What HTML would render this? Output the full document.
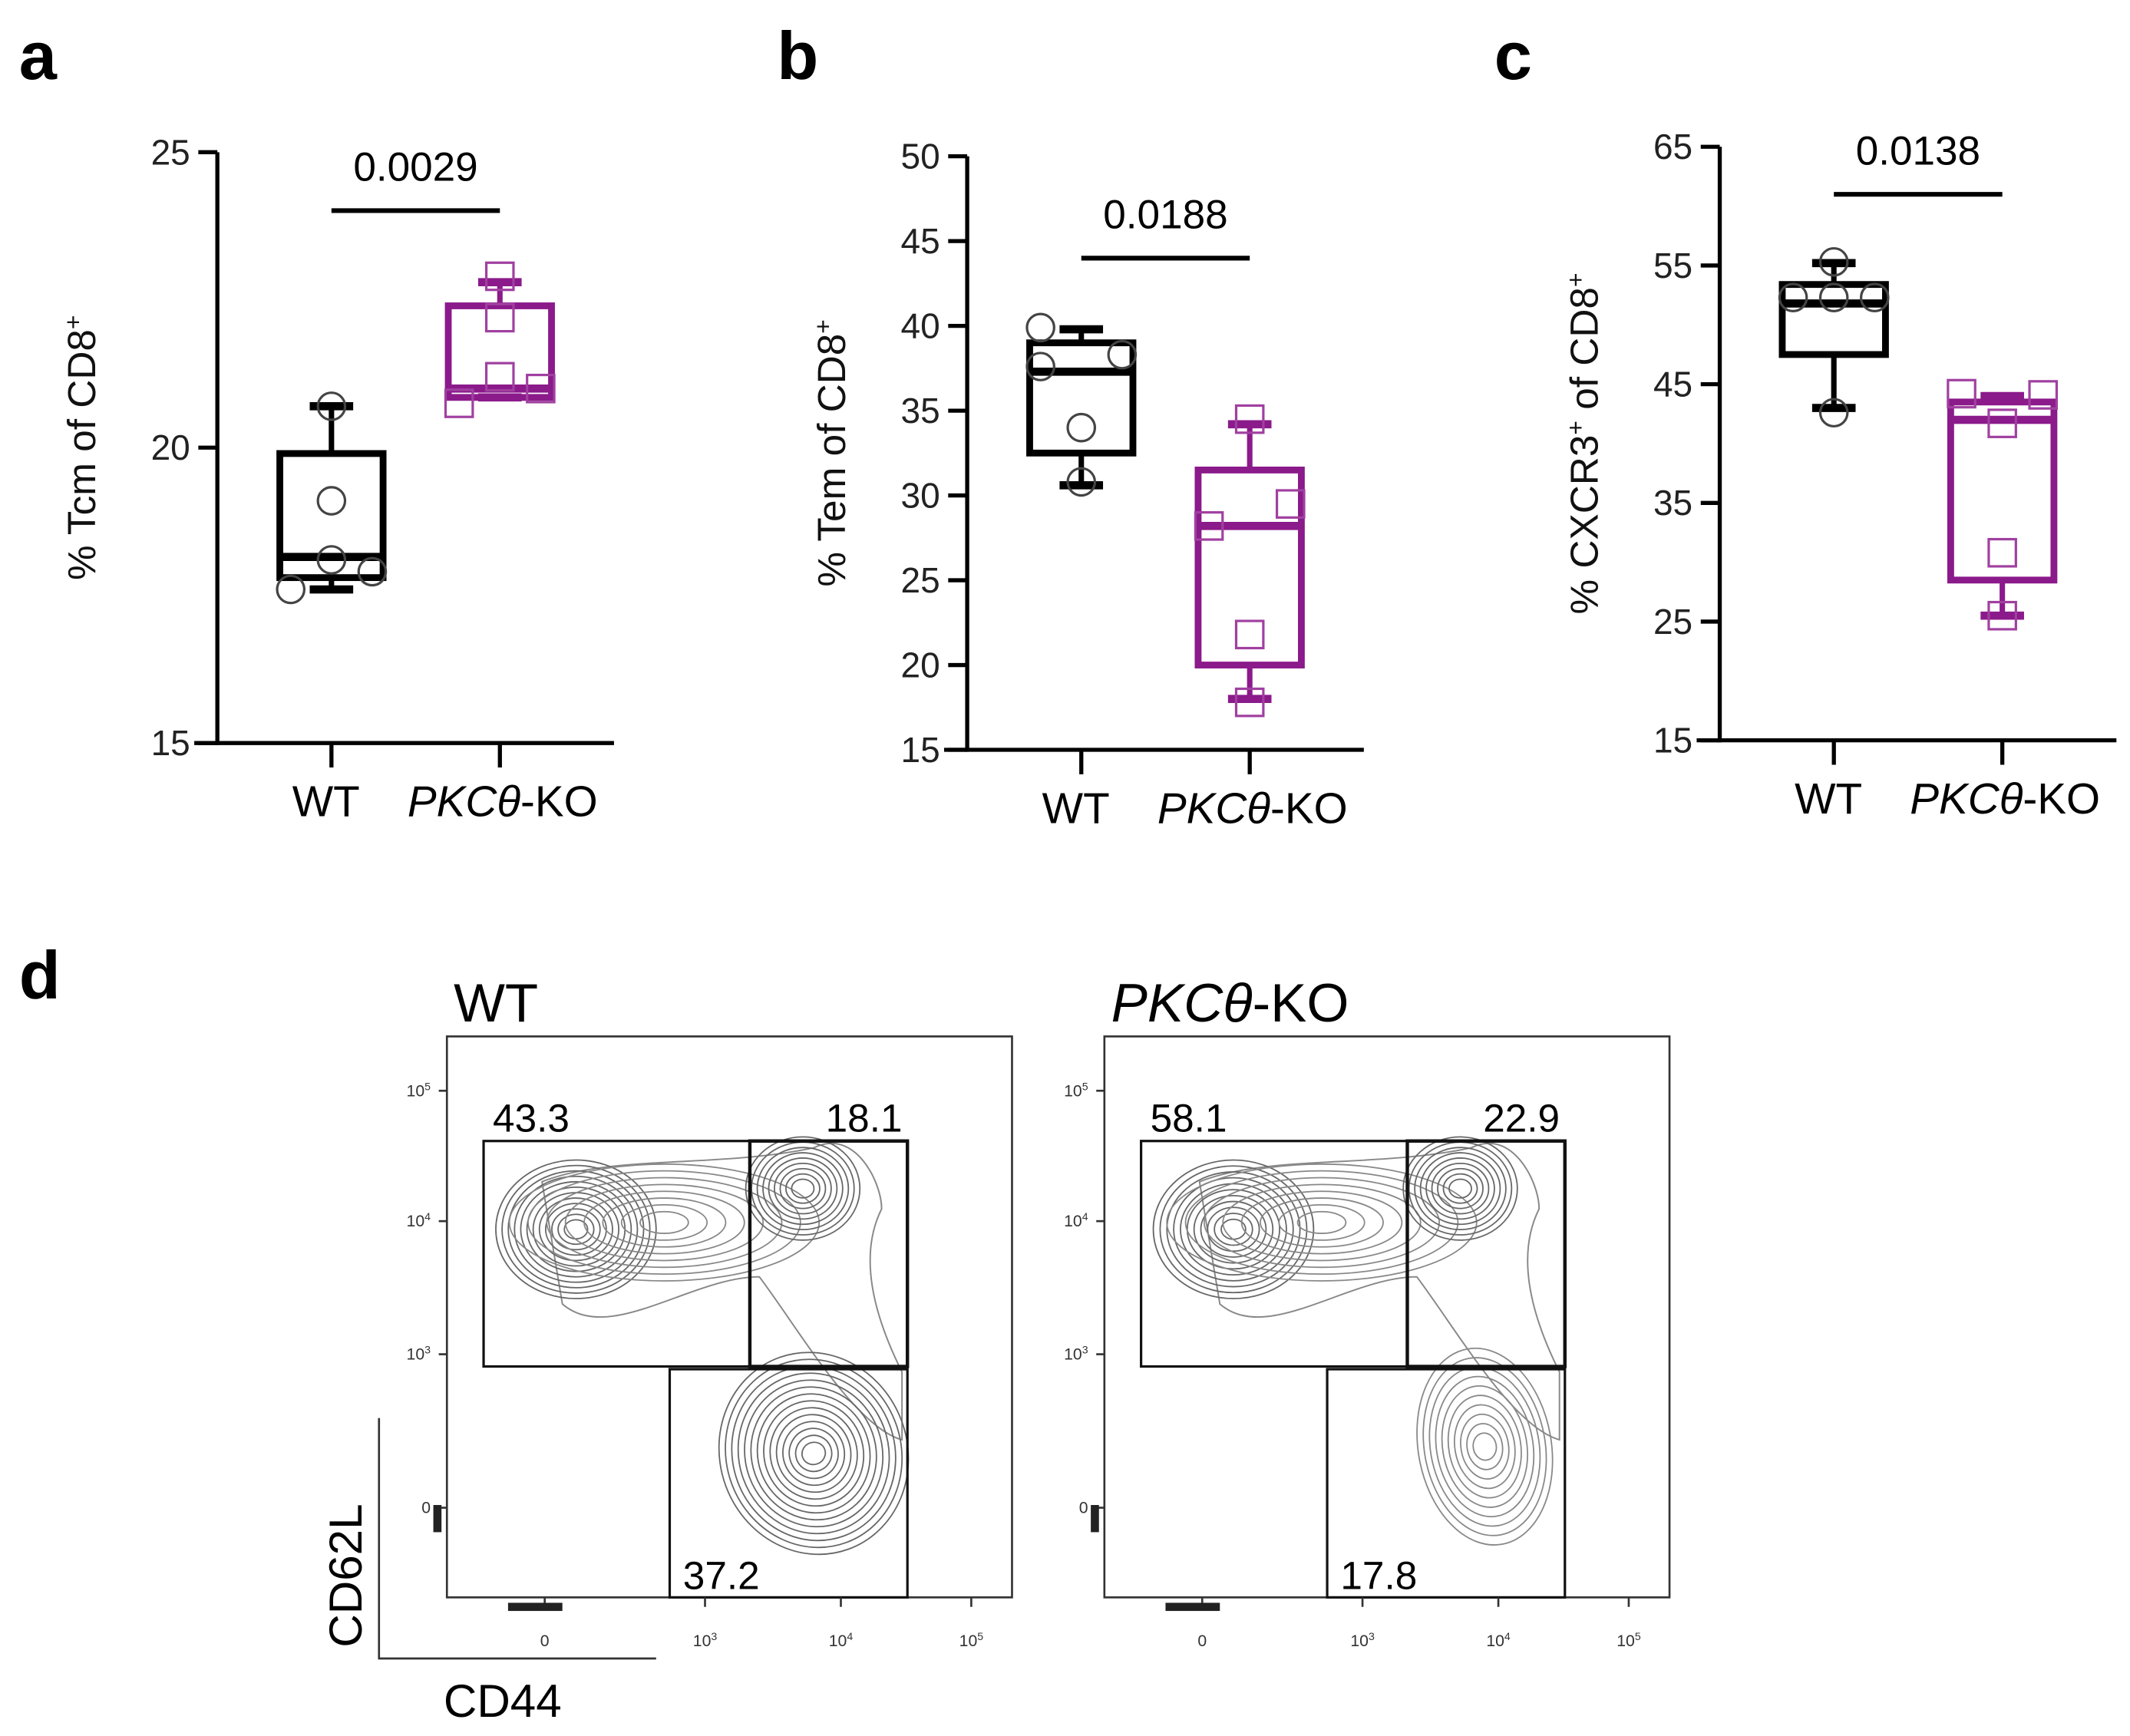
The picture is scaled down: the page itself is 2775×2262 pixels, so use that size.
<!DOCTYPE html>
<html><head><meta charset="utf-8"><style>
html,body{margin:0;padding:0;background:#fff}
svg{display:block}
text{font-family:"Liberation Sans",Arial,sans-serif}
</style></head><body>
<svg id="fig" xmlns="http://www.w3.org/2000/svg" width="2775" height="2262" viewBox="0 0 1568 1278">
<g id="panels"></g>
<g id="flow"></g>
</svg>
<script>
// ---- Data for panels a, b, c ----
const categories = ["WT", "PKCθ-KO"];
const aWT = {q1:17.8, med:18.15, q3:19.9, lo:17.6, hi:20.7};
const aKO = {q1:20.85, med:21.0, q3:22.4, lo:20.85, hi:22.8};
const aPtsWT = [20.7, 19.1, 17.6, 17.9, 18.1];
const aPtsKO = [22.9, 22.2, 21.2, 20.75, 21.0];
const aTicks = [15, 20, 25];
const bWT = {q1:32.5, med:37.3, q3:39.0, lo:30.6, hi:39.8};
const bKO = {q1:20.0, med:28.2, q3:31.5, lo:18.0, hi:34.2};
const bPtsWT = [39.9, 37.6, 34.0, 30.8, 38.3];
const bPtsKO = [34.5, 28.2, 29.5, 21.8, 17.8];
const bTicks = [15, 20, 25, 30, 35, 40, 45, 50];
const cWT = {q1:47.5, med:51.8, q3:53.4, lo:43.0, hi:55.2};
const cKO = {q1:28.5, med:42.0, q3:43.5, lo:25.5, hi:44.0};
const cPtsWT = [55.3, 52.3, 52.3, 52.3, 42.6];
const cPtsKO = [44.2, 44.1, 41.7, 30.8, 25.5];
const cTicks = [15, 25, 35, 45, 55, 65];
const pvals = ["0.0029", "0.0188", "0.0138"];

const NS = "http://www.w3.org/2000/svg";
function mk(tag, attrs, parent, txt){
  const e = document.createElementNS(NS, tag);
  for (const k in attrs) e.setAttribute(k, attrs[k]);
  if (txt !== undefined) e.textContent = txt;
  parent.appendChild(e); return e;
}
const P = document.getElementById('panels');
function panel(cfg){
  const g = mk('g', {}, P);
  
  
  const y = v => cfg.y0 + (v - cfg.vmin) / (cfg.vmax - cfg.vmin) * (cfg.y1 - cfg.y0);
  const xs = [cfg.ax + 84, cfg.ax + 208];
  const lt = mk('text', {x: cfg.lx, y: 58, 'font-size': 50, 'font-weight': 'bold'}, g, cfg.letter);
  
  
  const ya = mk('line', {x1: cfg.ax, y1: y(cfg.vmax), x2: cfg.ax, y2: y(cfg.vmin)+1.5, stroke: '#000', 'stroke-width': 3}, g);
  
  
  const xa = mk('line', {x1: cfg.ax - 17, y1: y(cfg.vmin), x2: cfg.ax + 292, y2: y(cfg.vmin), stroke: '#000', 'stroke-width': 3}, g);
  
  
  cfg.ticks.forEach(t => {
    mk('line', {x1: cfg.ax - 14, y1: y(t), x2: cfg.ax, y2: y(t), stroke: '#000', 'stroke-width': 3}, g);
    const tl = mk('text', {x: cfg.ax - 20, y: y(t) + 9, 'font-size': 26, 'text-anchor': 'end', fill: '#222'}, g, t);
    
    
  });
  const tt = mk('text', {transform: `translate(${cfg.ax - 90},${(y(cfg.vmin)+y(cfg.vmax))/2}) rotate(-90)`, 'font-size': 29, 'text-anchor': 'middle', fill: '#111'}, g);
  
  
  tt.innerHTML = cfg.title;
  categories.forEach((c, i) => {
    mk('line', {x1: xs[i], y1: y(cfg.vmin), x2: xs[i], y2: y(cfg.vmin) + 18, stroke: '#000', 'stroke-width': 3}, g);
    const cl = mk('text', {x: xs[i] + (i ? 2 : -4), y: y(cfg.vmin) + 54, 'font-size': 32, 'text-anchor': 'middle', 'font-style': i ? 'italic' : 'normal'}, g);
    
    
    if (i) cl.innerHTML = 'PKCθ<tspan font-style="normal">-KO</tspan>'; else cl.textContent = c;
  });
  [[cfg.wt, cfg.pw, '#000', 'circle', cfg.jw], [cfg.ko, cfg.pk, '#8b1a8b', 'square', cfg.jk]].forEach(([b, pts, col, shape, jit], i) => {
    const x = xs[i], w = 38;
    const bg = mk('g', {}, g);
    
    
    mk('line', {x1: x, y1: y(b.hi), x2: x, y2: y(b.q3), stroke: col, 'stroke-width': 4}, bg);
    mk('line', {x1: x, y1: y(b.lo), x2: x, y2: y(b.q1), stroke: col, 'stroke-width': 4}, bg);
    mk('line', {x1: x - 16, y1: y(b.hi), x2: x + 16, y2: y(b.hi), stroke: col, 'stroke-width': 6}, bg);
    mk('line', {x1: x - 16, y1: y(b.lo), x2: x + 16, y2: y(b.lo), stroke: col, 'stroke-width': 6}, bg);
    mk('rect', {x: x - w, y: y(b.q3), width: 2 * w, height: y(b.q1) - y(b.q3), fill: 'none', stroke: col, 'stroke-width': 5}, bg);
    mk('line', {x1: x - w, y1: y(b.med), x2: x + w, y2: y(b.med), stroke: col, 'stroke-width': 6}, bg);
    pts.forEach((v, k) => {
      const px = x + jit[k] * 30;
      let m;
      if (shape === 'circle') m = mk('circle', {cx: px, cy: y(v), r: 10, fill: 'none', stroke: '#444', 'stroke-width': 1.8}, bg);
      else m = mk('rect', {x: px - 10, y: y(v) - 10, width: 20, height: 20, fill: 'none', stroke: '#a040a0', 'stroke-width': 1.8}, bg);
      
      
    });
  });
  const sl = mk('line', {x1: xs[0], y1: cfg.sigY, x2: xs[1], y2: cfg.sigY, stroke: '#000', 'stroke-width': 3.5}, g);
  
  
  const st = mk('text', {x: (xs[0] + xs[1]) / 2, y: cfg.sigY - 22, 'font-size': 30, 'text-anchor': 'middle'}, g, cfg.p);
  
  
}
panel({name:'panel-a', letter:'a', lx:14, ax:160, y0:547, y1:112, vmin:15, vmax:25, ticks:aTicks, wt:aWT, ko:aKO, pw:aPtsWT, pk:aPtsKO, jw:[0,0,-1,1,0], jk:[0,0,0,-1,1], sigY:155, p:pvals[0], title:'% Tcm of CD8<tspan baseline-shift="super" font-size="18">+</tspan>'});
panel({name:'panel-b', letter:'b', lx:572, ax:712, y0:552, y1:115, vmin:15, vmax:50, ticks:bTicks, wt:bWT, ko:bKO, pw:bPtsWT, pk:bPtsKO, jw:[-1,-1,0,0,1], jk:[0,-1,1,0,0], sigY:190, p:pvals[1], title:'% Tem of CD8<tspan baseline-shift="super" font-size="18">+</tspan>'});
panel({name:'panel-c', letter:'c', lx:1100, ax:1266, y0:545, y1:108, vmin:15, vmax:65, ticks:cTicks, wt:cWT, ko:cKO, pw:cPtsWT, pk:cPtsKO, jw:[0,-1,1,0,0], jk:[-1,1,0,0,0], sigY:143, p:pvals[2], title:'% CXCR3<tspan baseline-shift="super" font-size="18">+</tspan> of CD8<tspan baseline-shift="super" font-size="18">+</tspan>'});

// ---- Panel d: flow plots ----
const gateLabelsWT = ["43.3", "18.1", "37.2"];
const gateLabelsKO = ["58.1", "22.9", "17.8"];
const F = document.getElementById('flow');
const dl = mk('text', {x: 14, y: 735, 'font-size': 50, 'font-weight': 'bold'}, F, 'd');


function blob(g, cx, cy, rx, ry, n, rot, dark){
  for (let i = 0; i < n; i++) {
    const f = 1 - i / n;
    mk('ellipse', {cx: cx, cy: cy, rx: rx * f + 4, ry: ry * f + 3, transform: `rotate(${rot} ${cx} ${cy})`, fill: 'none', stroke: dark ? '#666' : '#888', 'stroke-width': 1}, g);
  }
}
function flowPlot(ox, title, labels, italic, dense){
  const g = mk('g', {}, F);
  
  
  const t = mk('text', {x: ox + 5, y: 752, 'font-size': 40}, g);
  
  
  if (italic) t.innerHTML = '<tspan font-style="italic">PKCθ</tspan>-KO'; else t.textContent = title;
  mk('rect', {x: ox, y: 763, width: 416, height: 413, fill: 'none', stroke: '#333', 'stroke-width': 1.5}, g);
  const cg = mk('g', {}, g);
  
  
  mk('path', {d: `M${ox+70},${870} C${ox+120},${850} ${ox+200},${860} ${ox+270},${845} C${ox+300},${830} ${ox+320},${870} ${ox+320},${890} C${ox+300},${930} ${ox+320},${980} ${ox+335},${1010} L${ox+335},${1060} C${ox+300},${1050} ${ox+260},${980} ${ox+230},${940} C${ox+180},${940} ${ox+120},${990} ${ox+85},${960} Z`, fill: 'none', stroke: '#888', 'stroke-width': 1.1}, cg);
  blob(cg, ox + 95, 905, 55, 48, dense ? 12 : 11, 0, true);
  blob(cg, ox + 160, 900, 110, 40, 8, 0, false);
  blob(cg, ox + 262, 875, 38, 35, 9, 0, true);
  if (dense) blob(cg, ox + 270, 1070, 65, 72, 14, -20, true);
  else blob(cg, ox + 280, 1065, 45, 70, 10, -10, false);
  const gs = [[ox+27, 840, 196, 166], [ox+223, 840, 116, 166], [ox+164, 1008, 175, 168]];
  gs.forEach((r, i) => {
    const gr = mk('rect', {x: r[0], y: r[1], width: r[2], height: r[3], fill: 'none', stroke: '#111', 'stroke-width': i===1 ? 2.5 : 1.8}, g);
    
    
  });
  [[ox+62, 833], [ox+307, 833], [ox+202, 1170]].forEach((p, i) => {
    const l = mk('text', {x: p[0], y: p[1], 'font-size': 29, 'text-anchor': 'middle'}, g, labels[i]);
    
    
  });
  [['10', '5', 803], ['10', '4', 899], ['10', '3', 997], ['0', '', 1110]].forEach(a => {
    const l = mk('text', {x: ox - 12, y: a[2] + 4, 'font-size': 12, 'text-anchor': 'end', fill: '#333'}, g);
    l.innerHTML = a[0] + (a[1] ? `<tspan baseline-shift="super" font-size="8">${a[1]}</tspan>` : '');
    mk('line', {x1: ox - 6, y1: a[2], x2: ox, y2: a[2], stroke: '#333', 'stroke-width': 1.5}, g);
  });
  [['0', '', 72], ['10', '3', 190], ['10', '4', 290], ['10', '5', 386]].forEach(a => {
    const l = mk('text', {x: ox + a[2], y: 1212, 'font-size': 12, 'text-anchor': 'middle', fill: '#333'}, g);
    l.innerHTML = a[0] + (a[1] ? `<tspan baseline-shift="super" font-size="8">${a[1]}</tspan>` : '');
    mk('line', {x1: ox + a[2], y1: 1176, x2: ox + a[2], y2: 1183, stroke: '#333', 'stroke-width': 1.5}, g);
  });
  mk('rect', {x: ox - 10, y: 1108, width: 6, height: 20, fill: '#222'}, g);
  mk('rect', {x: ox + 45, y: 1180, width: 40, height: 6, fill: '#222'}, g);
}
flowPlot(329, 'WT', gateLabelsWT, false, true);
flowPlot(813, 'PKCθ-KO', gateLabelsKO, true, false);
const ag = mk('g', {}, F);


mk('path', {d: 'M279,1044 L279,1221 L483,1221', fill: 'none', stroke: '#333', 'stroke-width': 1.5}, ag);
const t1 = mk('text', {transform: 'translate(266,1160) rotate(-90)', 'font-size': 34, 'text-anchor': 'middle'}, ag, 'CD62L');


const t2 = mk('text', {x: 370, y: 1264, 'font-size': 34, 'text-anchor': 'middle'}, ag, 'CD44');


</script>
</body></html>
